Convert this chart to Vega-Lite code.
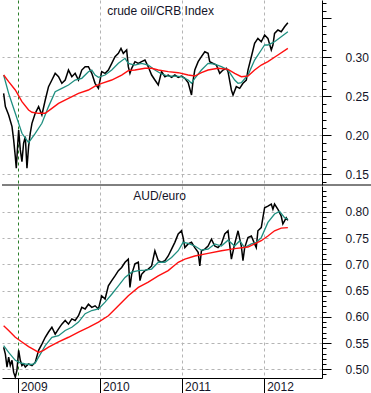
{
"$schema": "https://vega.github.io/schema/vega-lite/v6.json",
"padding": 0,
"spacing": 0,
"background": "white",
"config": {"view": {"stroke": null}, "font": "Liberation Sans", "axis": {"labelFont": "Liberation Sans", "labelFontSize": 12, "labelColor": "#141428"}},
"datasets": {
"oil": [
{"t":2008.826,"v":0.2538,"s":"p"},{"t":2008.847,"v":0.2368,"s":"p"},{"t":2008.887,"v":0.2261,"s":"p"},{"t":2008.928,"v":0.2111,"s":"p"},{"t":2008.948,"v":0.1941,"s":"p"},{"t":2008.968,"v":0.1727,"s":"p"},{"t":2008.980,"v":0.1578,"s":"p"},{"t":2008.996,"v":0.1855,"s":"p"},{"t":2009.009,"v":0.2069,"s":"p"},{"t":2009.029,"v":0.1813,"s":"p"},{"t":2009.049,"v":0.1663,"s":"p"},{"t":2009.069,"v":0.1898,"s":"p"},{"t":2009.090,"v":0.1983,"s":"p"},{"t":2009.110,"v":0.1578,"s":"p"},{"t":2009.130,"v":0.1855,"s":"p"},{"t":2009.150,"v":0.2026,"s":"p"},{"t":2009.171,"v":0.2154,"s":"p"},{"t":2009.211,"v":0.2282,"s":"p"},{"t":2009.252,"v":0.2368,"s":"p"},{"t":2009.292,"v":0.2261,"s":"p"},{"t":2009.333,"v":0.2453,"s":"p"},{"t":2009.373,"v":0.2624,"s":"p"},{"t":2009.414,"v":0.2709,"s":"p"},{"t":2009.454,"v":0.2795,"s":"p"},{"t":2009.495,"v":0.2752,"s":"p"},{"t":2009.535,"v":0.2667,"s":"p"},{"t":2009.576,"v":0.2709,"s":"p"},{"t":2009.616,"v":0.2837,"s":"p"},{"t":2009.657,"v":0.2752,"s":"p"},{"t":2009.697,"v":0.2795,"s":"p"},{"t":2009.738,"v":0.2709,"s":"p"},{"t":2009.778,"v":0.2837,"s":"p"},{"t":2009.819,"v":0.2880,"s":"p"},{"t":2009.859,"v":0.2880,"s":"p"},{"t":2009.900,"v":0.2795,"s":"p"},{"t":2009.940,"v":0.2667,"s":"p"},{"t":2009.981,"v":0.2602,"s":"p"},{"t":2010.021,"v":0.2816,"s":"p"},{"t":2010.062,"v":0.2795,"s":"p"},{"t":2010.102,"v":0.2837,"s":"p"},{"t":2010.143,"v":0.2923,"s":"p"},{"t":2010.183,"v":0.3008,"s":"p"},{"t":2010.224,"v":0.3051,"s":"p"},{"t":2010.256,"v":0.3115,"s":"p"},{"t":2010.284,"v":0.3051,"s":"p"},{"t":2010.325,"v":0.3094,"s":"p"},{"t":2010.345,"v":0.2880,"s":"p"},{"t":2010.365,"v":0.2795,"s":"p"},{"t":2010.386,"v":0.2859,"s":"p"},{"t":2010.426,"v":0.2944,"s":"p"},{"t":2010.467,"v":0.2923,"s":"p"},{"t":2010.507,"v":0.2944,"s":"p"},{"t":2010.548,"v":0.2965,"s":"p"},{"t":2010.588,"v":0.2880,"s":"p"},{"t":2010.629,"v":0.2773,"s":"p"},{"t":2010.669,"v":0.2709,"s":"p"},{"t":2010.710,"v":0.2645,"s":"p"},{"t":2010.750,"v":0.2816,"s":"p"},{"t":2010.791,"v":0.2752,"s":"p"},{"t":2010.831,"v":0.2773,"s":"p"},{"t":2010.872,"v":0.2743,"s":"p"},{"t":2010.912,"v":0.2773,"s":"p"},{"t":2010.953,"v":0.2743,"s":"p"},{"t":2010.993,"v":0.2760,"s":"p"},{"t":2011.034,"v":0.2731,"s":"p"},{"t":2011.074,"v":0.2675,"s":"p"},{"t":2011.115,"v":0.2517,"s":"p"},{"t":2011.135,"v":0.2709,"s":"p"},{"t":2011.155,"v":0.2837,"s":"p"},{"t":2011.196,"v":0.2944,"s":"p"},{"t":2011.236,"v":0.3008,"s":"p"},{"t":2011.277,"v":0.3072,"s":"p"},{"t":2011.317,"v":0.3051,"s":"p"},{"t":2011.337,"v":0.2944,"s":"p"},{"t":2011.378,"v":0.2923,"s":"p"},{"t":2011.418,"v":0.2901,"s":"p"},{"t":2011.459,"v":0.2795,"s":"p"},{"t":2011.499,"v":0.2837,"s":"p"},{"t":2011.540,"v":0.2859,"s":"p"},{"t":2011.560,"v":0.2816,"s":"p"},{"t":2011.601,"v":0.2581,"s":"p"},{"t":2011.621,"v":0.2517,"s":"p"},{"t":2011.661,"v":0.2624,"s":"p"},{"t":2011.702,"v":0.2602,"s":"p"},{"t":2011.742,"v":0.2667,"s":"p"},{"t":2011.783,"v":0.2709,"s":"p"},{"t":2011.803,"v":0.2837,"s":"p"},{"t":2011.844,"v":0.3008,"s":"p"},{"t":2011.884,"v":0.3179,"s":"p"},{"t":2011.924,"v":0.3243,"s":"p"},{"t":2011.965,"v":0.3200,"s":"p"},{"t":2012.006,"v":0.3286,"s":"p"},{"t":2012.046,"v":0.3243,"s":"p"},{"t":2012.087,"v":0.3094,"s":"p"},{"t":2012.107,"v":0.3158,"s":"p"},{"t":2012.127,"v":0.3307,"s":"p"},{"t":2012.168,"v":0.3350,"s":"p"},{"t":2012.208,"v":0.3328,"s":"p"},{"t":2012.249,"v":0.3392,"s":"p"},{"t":2012.289,"v":0.3444,"s":"p"},
{"t":2008.826,"v":0.2773,"s":"m"},{"t":2008.887,"v":0.2538,"s":"m"},{"t":2008.968,"v":0.2282,"s":"m"},{"t":2009.049,"v":0.2026,"s":"m"},{"t":2009.130,"v":0.1906,"s":"m"},{"t":2009.211,"v":0.2026,"s":"m"},{"t":2009.292,"v":0.2154,"s":"m"},{"t":2009.373,"v":0.2368,"s":"m"},{"t":2009.454,"v":0.2560,"s":"m"},{"t":2009.535,"v":0.2602,"s":"m"},{"t":2009.616,"v":0.2645,"s":"m"},{"t":2009.697,"v":0.2709,"s":"m"},{"t":2009.778,"v":0.2731,"s":"m"},{"t":2009.859,"v":0.2816,"s":"m"},{"t":2009.900,"v":0.2837,"s":"m"},{"t":2009.940,"v":0.2773,"s":"m"},{"t":2009.981,"v":0.2743,"s":"m"},{"t":2010.062,"v":0.2773,"s":"m"},{"t":2010.143,"v":0.2837,"s":"m"},{"t":2010.224,"v":0.2923,"s":"m"},{"t":2010.305,"v":0.2987,"s":"m"},{"t":2010.345,"v":0.2923,"s":"m"},{"t":2010.426,"v":0.2901,"s":"m"},{"t":2010.507,"v":0.2923,"s":"m"},{"t":2010.588,"v":0.2901,"s":"m"},{"t":2010.669,"v":0.2837,"s":"m"},{"t":2010.750,"v":0.2786,"s":"m"},{"t":2010.831,"v":0.2760,"s":"m"},{"t":2010.912,"v":0.2760,"s":"m"},{"t":2010.993,"v":0.2752,"s":"m"},{"t":2011.074,"v":0.2709,"s":"m"},{"t":2011.115,"v":0.2667,"s":"m"},{"t":2011.155,"v":0.2731,"s":"m"},{"t":2011.236,"v":0.2837,"s":"m"},{"t":2011.317,"v":0.2923,"s":"m"},{"t":2011.398,"v":0.2914,"s":"m"},{"t":2011.479,"v":0.2880,"s":"m"},{"t":2011.560,"v":0.2837,"s":"m"},{"t":2011.641,"v":0.2709,"s":"m"},{"t":2011.682,"v":0.2667,"s":"m"},{"t":2011.722,"v":0.2675,"s":"m"},{"t":2011.803,"v":0.2773,"s":"m"},{"t":2011.884,"v":0.2965,"s":"m"},{"t":2011.965,"v":0.3094,"s":"m"},{"t":2012.006,"v":0.3158,"s":"m"},{"t":2012.046,"v":0.3158,"s":"m"},{"t":2012.087,"v":0.3179,"s":"m"},{"t":2012.127,"v":0.3200,"s":"m"},{"t":2012.208,"v":0.3264,"s":"m"},{"t":2012.289,"v":0.3328,"s":"m"},
{"t":2008.826,"v":0.2773,"s":"l"},{"t":2008.887,"v":0.2688,"s":"l"},{"t":2008.968,"v":0.2581,"s":"l"},{"t":2009.049,"v":0.2432,"s":"l"},{"t":2009.130,"v":0.2325,"s":"l"},{"t":2009.171,"v":0.2295,"s":"l"},{"t":2009.252,"v":0.2282,"s":"l"},{"t":2009.333,"v":0.2282,"s":"l"},{"t":2009.414,"v":0.2346,"s":"l"},{"t":2009.495,"v":0.2410,"s":"l"},{"t":2009.616,"v":0.2474,"s":"l"},{"t":2009.738,"v":0.2538,"s":"l"},{"t":2009.859,"v":0.2581,"s":"l"},{"t":2009.940,"v":0.2632,"s":"l"},{"t":2010.021,"v":0.2667,"s":"l"},{"t":2010.143,"v":0.2709,"s":"l"},{"t":2010.264,"v":0.2773,"s":"l"},{"t":2010.345,"v":0.2829,"s":"l"},{"t":2010.426,"v":0.2837,"s":"l"},{"t":2010.548,"v":0.2859,"s":"l"},{"t":2010.629,"v":0.2859,"s":"l"},{"t":2010.710,"v":0.2837,"s":"l"},{"t":2010.831,"v":0.2816,"s":"l"},{"t":2010.953,"v":0.2803,"s":"l"},{"t":2011.074,"v":0.2773,"s":"l"},{"t":2011.155,"v":0.2760,"s":"l"},{"t":2011.236,"v":0.2803,"s":"l"},{"t":2011.317,"v":0.2837,"s":"l"},{"t":2011.438,"v":0.2859,"s":"l"},{"t":2011.560,"v":0.2846,"s":"l"},{"t":2011.641,"v":0.2795,"s":"l"},{"t":2011.722,"v":0.2752,"s":"l"},{"t":2011.803,"v":0.2760,"s":"l"},{"t":2011.884,"v":0.2837,"s":"l"},{"t":2011.965,"v":0.2901,"s":"l"},{"t":2012.046,"v":0.2944,"s":"l"},{"t":2012.168,"v":0.3030,"s":"l"},{"t":2012.289,"v":0.3115,"s":"l"}
],
"aud": [
{"t":2008.826,"v":0.542,"s":"p"},{"t":2008.847,"v":0.529,"s":"p"},{"t":2008.867,"v":0.504,"s":"p"},{"t":2008.887,"v":0.523,"s":"p"},{"t":2008.907,"v":0.507,"s":"p"},{"t":2008.928,"v":0.517,"s":"p"},{"t":2008.948,"v":0.494,"s":"p"},{"t":2008.968,"v":0.485,"s":"p"},{"t":2008.988,"v":0.498,"s":"p"},{"t":2009.009,"v":0.536,"s":"p"},{"t":2009.029,"v":0.517,"s":"p"},{"t":2009.049,"v":0.507,"s":"p"},{"t":2009.069,"v":0.510,"s":"p"},{"t":2009.090,"v":0.504,"s":"p"},{"t":2009.130,"v":0.510,"s":"p"},{"t":2009.171,"v":0.507,"s":"p"},{"t":2009.211,"v":0.513,"s":"p"},{"t":2009.252,"v":0.536,"s":"p"},{"t":2009.292,"v":0.548,"s":"p"},{"t":2009.333,"v":0.561,"s":"p"},{"t":2009.373,"v":0.571,"s":"p"},{"t":2009.414,"v":0.580,"s":"p"},{"t":2009.454,"v":0.567,"s":"p"},{"t":2009.495,"v":0.577,"s":"p"},{"t":2009.535,"v":0.586,"s":"p"},{"t":2009.576,"v":0.593,"s":"p"},{"t":2009.616,"v":0.586,"s":"p"},{"t":2009.657,"v":0.596,"s":"p"},{"t":2009.697,"v":0.593,"s":"p"},{"t":2009.738,"v":0.602,"s":"p"},{"t":2009.778,"v":0.618,"s":"p"},{"t":2009.819,"v":0.615,"s":"p"},{"t":2009.859,"v":0.624,"s":"p"},{"t":2009.900,"v":0.618,"s":"p"},{"t":2009.940,"v":0.621,"s":"p"},{"t":2009.981,"v":0.615,"s":"p"},{"t":2010.021,"v":0.640,"s":"p"},{"t":2010.062,"v":0.634,"s":"p"},{"t":2010.102,"v":0.659,"s":"p"},{"t":2010.143,"v":0.669,"s":"p"},{"t":2010.183,"v":0.678,"s":"p"},{"t":2010.224,"v":0.688,"s":"p"},{"t":2010.264,"v":0.694,"s":"p"},{"t":2010.305,"v":0.704,"s":"p"},{"t":2010.345,"v":0.710,"s":"p"},{"t":2010.365,"v":0.656,"s":"p"},{"t":2010.386,"v":0.681,"s":"p"},{"t":2010.426,"v":0.701,"s":"p"},{"t":2010.467,"v":0.704,"s":"p"},{"t":2010.487,"v":0.669,"s":"p"},{"t":2010.507,"v":0.681,"s":"p"},{"t":2010.548,"v":0.688,"s":"p"},{"t":2010.588,"v":0.691,"s":"p"},{"t":2010.629,"v":0.697,"s":"p"},{"t":2010.669,"v":0.726,"s":"p"},{"t":2010.710,"v":0.707,"s":"p"},{"t":2010.750,"v":0.704,"s":"p"},{"t":2010.791,"v":0.707,"s":"p"},{"t":2010.831,"v":0.716,"s":"p"},{"t":2010.872,"v":0.729,"s":"p"},{"t":2010.912,"v":0.742,"s":"p"},{"t":2010.953,"v":0.758,"s":"p"},{"t":2010.993,"v":0.764,"s":"p"},{"t":2011.013,"v":0.751,"s":"p"},{"t":2011.034,"v":0.732,"s":"p"},{"t":2011.074,"v":0.739,"s":"p"},{"t":2011.115,"v":0.742,"s":"p"},{"t":2011.155,"v":0.732,"s":"p"},{"t":2011.196,"v":0.723,"s":"p"},{"t":2011.216,"v":0.697,"s":"p"},{"t":2011.236,"v":0.726,"s":"p"},{"t":2011.277,"v":0.729,"s":"p"},{"t":2011.317,"v":0.735,"s":"p"},{"t":2011.358,"v":0.748,"s":"p"},{"t":2011.398,"v":0.735,"s":"p"},{"t":2011.438,"v":0.732,"s":"p"},{"t":2011.479,"v":0.739,"s":"p"},{"t":2011.520,"v":0.758,"s":"p"},{"t":2011.560,"v":0.764,"s":"p"},{"t":2011.601,"v":0.710,"s":"p"},{"t":2011.641,"v":0.739,"s":"p"},{"t":2011.682,"v":0.764,"s":"p"},{"t":2011.722,"v":0.735,"s":"p"},{"t":2011.742,"v":0.707,"s":"p"},{"t":2011.763,"v":0.732,"s":"p"},{"t":2011.803,"v":0.751,"s":"p"},{"t":2011.844,"v":0.754,"s":"p"},{"t":2011.884,"v":0.739,"s":"p"},{"t":2011.904,"v":0.732,"s":"p"},{"t":2011.924,"v":0.764,"s":"p"},{"t":2011.965,"v":0.770,"s":"p"},{"t":2011.985,"v":0.789,"s":"p"},{"t":2012.006,"v":0.808,"s":"p"},{"t":2012.046,"v":0.811,"s":"p"},{"t":2012.087,"v":0.815,"s":"p"},{"t":2012.107,"v":0.805,"s":"p"},{"t":2012.127,"v":0.815,"s":"p"},{"t":2012.168,"v":0.805,"s":"p"},{"t":2012.208,"v":0.792,"s":"p"},{"t":2012.228,"v":0.777,"s":"p"},{"t":2012.249,"v":0.783,"s":"p"},{"t":2012.269,"v":0.789,"s":"p"},{"t":2012.289,"v":0.784,"s":"p"},
{"t":2008.826,"v":0.545,"s":"m"},{"t":2008.887,"v":0.532,"s":"m"},{"t":2008.968,"v":0.517,"s":"m"},{"t":2009.029,"v":0.512,"s":"m"},{"t":2009.090,"v":0.510,"s":"m"},{"t":2009.171,"v":0.509,"s":"m"},{"t":2009.211,"v":0.512,"s":"m"},{"t":2009.252,"v":0.523,"s":"m"},{"t":2009.333,"v":0.545,"s":"m"},{"t":2009.414,"v":0.561,"s":"m"},{"t":2009.495,"v":0.564,"s":"m"},{"t":2009.576,"v":0.574,"s":"m"},{"t":2009.657,"v":0.580,"s":"m"},{"t":2009.738,"v":0.590,"s":"m"},{"t":2009.819,"v":0.606,"s":"m"},{"t":2009.900,"v":0.612,"s":"m"},{"t":2009.981,"v":0.615,"s":"m"},{"t":2010.062,"v":0.628,"s":"m"},{"t":2010.143,"v":0.643,"s":"m"},{"t":2010.224,"v":0.659,"s":"m"},{"t":2010.305,"v":0.675,"s":"m"},{"t":2010.386,"v":0.685,"s":"m"},{"t":2010.467,"v":0.688,"s":"m"},{"t":2010.548,"v":0.689,"s":"m"},{"t":2010.629,"v":0.691,"s":"m"},{"t":2010.710,"v":0.704,"s":"m"},{"t":2010.791,"v":0.704,"s":"m"},{"t":2010.872,"v":0.713,"s":"m"},{"t":2010.953,"v":0.726,"s":"m"},{"t":2011.013,"v":0.742,"s":"m"},{"t":2011.074,"v":0.740,"s":"m"},{"t":2011.155,"v":0.735,"s":"m"},{"t":2011.236,"v":0.727,"s":"m"},{"t":2011.317,"v":0.729,"s":"m"},{"t":2011.398,"v":0.739,"s":"m"},{"t":2011.479,"v":0.735,"s":"m"},{"t":2011.560,"v":0.746,"s":"m"},{"t":2011.641,"v":0.735,"s":"m"},{"t":2011.702,"v":0.745,"s":"m"},{"t":2011.763,"v":0.732,"s":"m"},{"t":2011.844,"v":0.739,"s":"m"},{"t":2011.904,"v":0.742,"s":"m"},{"t":2011.965,"v":0.751,"s":"m"},{"t":2012.046,"v":0.780,"s":"m"},{"t":2012.127,"v":0.796,"s":"m"},{"t":2012.188,"v":0.801,"s":"m"},{"t":2012.249,"v":0.789,"s":"m"},{"t":2012.289,"v":0.786,"s":"m"},
{"t":2008.826,"v":0.583,"s":"l"},{"t":2008.887,"v":0.574,"s":"l"},{"t":2008.968,"v":0.561,"s":"l"},{"t":2009.049,"v":0.552,"s":"l"},{"t":2009.130,"v":0.543,"s":"l"},{"t":2009.211,"v":0.536,"s":"l"},{"t":2009.252,"v":0.532,"s":"l"},{"t":2009.312,"v":0.536,"s":"l"},{"t":2009.373,"v":0.542,"s":"l"},{"t":2009.495,"v":0.552,"s":"l"},{"t":2009.616,"v":0.561,"s":"l"},{"t":2009.738,"v":0.571,"s":"l"},{"t":2009.859,"v":0.580,"s":"l"},{"t":2009.981,"v":0.590,"s":"l"},{"t":2010.102,"v":0.602,"s":"l"},{"t":2010.224,"v":0.621,"s":"l"},{"t":2010.345,"v":0.640,"s":"l"},{"t":2010.467,"v":0.656,"s":"l"},{"t":2010.588,"v":0.666,"s":"l"},{"t":2010.710,"v":0.678,"s":"l"},{"t":2010.831,"v":0.688,"s":"l"},{"t":2010.953,"v":0.704,"s":"l"},{"t":2011.034,"v":0.710,"s":"l"},{"t":2011.155,"v":0.716,"s":"l"},{"t":2011.317,"v":0.721,"s":"l"},{"t":2011.479,"v":0.726,"s":"l"},{"t":2011.641,"v":0.730,"s":"l"},{"t":2011.803,"v":0.733,"s":"l"},{"t":2011.884,"v":0.739,"s":"l"},{"t":2011.965,"v":0.745,"s":"l"},{"t":2012.046,"v":0.754,"s":"l"},{"t":2012.127,"v":0.764,"s":"l"},{"t":2012.208,"v":0.769,"s":"l"},{"t":2012.289,"v":0.770,"s":"l"}
]
},
"vconcat": [
{
"width": 320, "height": 185,
"layer": [
{"data": {"name": "oil"}, "mark": {"type": "line"},
 "encoding": {
  "x": {"field": "t", "type": "quantitative", "scale": {"domain": [2008.806, 2012.705], "nice": false, "zero": false},
        "axis": {"values": [2009, 2010, 2011, 2012], "tickCount": 100, "labels": false, "ticks": false, "domain": false, "grid": true, "gridDash": [3, 3], "gridColor": {"condition": {"test": "datum.value == 2009", "value": "#2a7d2a"}, "value": "#b4b4b4"}, "title": null}},
  "y": {"field": "v", "type": "quantitative", "scale": {"domain": [0.1363, 0.3735], "nice": false, "zero": false},
        "axis": {"orient": "right", "title": null, "tickCount": 100, "values": [0.14,0.15,0.16,0.17,0.18,0.19,0.2,0.21,0.22,0.23,0.24,0.25,0.26,0.27,0.28,0.29,0.3,0.31,0.32,0.33,0.34,0.35,0.36,0.37],
                 "labelExpr": "abs(datum.value*20-round(datum.value*20))<0.001 && datum.value < 0.34 ? format(datum.value,'.2f') : ''",
                 "labelFontSize": {"condition": {"test": "abs(datum.value*20-round(datum.value*20))<0.001 && datum.value < 0.34", "value": 12}, "value": 0},
                 "tickSize": {"condition": {"test": "abs(datum.value*20-round(datum.value*20))<0.001", "value": 9}, "value": 4},
                 "labelOverlap": false, "labelBound": false, "labelFlush": false, "labelPadding": 14, "domainColor": "black", "tickColor": "black",
                 "grid": true, "gridDash": [3, 3], "gridColor": "#b4b4b4", "gridOpacity": {"condition": {"test": "abs(datum.value*20-round(datum.value*20))<0.001 && datum.value < 0.34", "value": 1}, "value": 0}}},
  "color": {"field": "s", "type": "nominal", "scale": {"domain": ["p", "l", "m"], "range": ["#000000", "#ff1010", "#1f8f80"]}, "legend": null},
  "strokeWidth": {"field": "s", "type": "nominal", "scale": {"domain": ["p", "l", "m"], "range": [1.5, 1.3, 1.3]}, "legend": null}
 }},
{"data": {"values": [{"t": 2010.738, "v": 0.3543, "label": "crude oil/CRB Index"}]}, "mark": {"type": "text", "align": "center", "baseline": "alphabetic", "fontSize": 12, "font": "Liberation Sans", "color": "#141428"},
 "encoding": {"x": {"field": "t", "type": "quantitative"}, "y": {"field": "v", "type": "quantitative"}, "text": {"field": "label"}}},
{"data": {"values": [{"t0": 2008.806, "t1": 2013.33, "v": 0.1363}]}, "mark": {"type": "rule", "clip": false, "color": "black", "strokeWidth": 1},
 "encoding": {"x": {"field": "t0", "type": "quantitative"}, "x2": {"field": "t1"}, "y": {"field": "v", "type": "quantitative"}}}
]
},
{
"width": 320, "height": 192,
"layer": [
{"data": {"name": "aud"}, "mark": {"type": "line"},
 "encoding": {
  "x": {"field": "t", "type": "quantitative", "scale": {"domain": [2008.806, 2012.705], "nice": false, "zero": false},
        "axis": {"values": [2009, 2010, 2011, 2012], "tickCount": 100, "format": "d", "labelAlign": "left", "labelBaseline": "top", "labelOffset": 2.5, "tickSize": 16, "labelPadding": -13, "labelFlush": false, "labelBound": false, "labelOverlap": false, "domainColor": "black", "tickColor": "black", "grid": true, "gridDash": [3, 3], "gridColor": {"condition": {"test": "datum.value == 2009", "value": "#2a7d2a"}, "value": "#b4b4b4"}, "title": null}},
  "y": {"field": "v", "type": "quantitative", "scale": {"domain": [0.4833, 0.8494], "nice": false, "zero": false},
        "axis": {"orient": "right", "title": null, "tickCount": 100, "values": [0.49,0.5,0.51,0.52,0.53,0.54,0.55,0.56,0.57,0.58,0.59,0.6,0.61,0.62,0.63,0.64,0.65,0.66,0.67,0.68,0.69,0.7,0.71,0.72,0.73,0.74,0.75,0.76,0.77,0.78,0.79,0.8,0.81,0.82,0.83,0.84],
                 "labelExpr": "abs(datum.value*20-round(datum.value*20))<0.001 ? format(datum.value,'.2f') : ''",
                 "labelFontSize": {"condition": {"test": "abs(datum.value*20-round(datum.value*20))<0.001", "value": 12}, "value": 0},
                 "tickSize": {"condition": {"test": "abs(datum.value*20-round(datum.value*20))<0.001", "value": 9}, "value": 4},
                 "labelOverlap": false, "labelBound": false, "labelFlush": false, "labelPadding": 14, "domainColor": "black", "tickColor": "black",
                 "grid": true, "gridDash": [3, 3], "gridColor": "#b4b4b4", "gridOpacity": {"condition": {"test": "abs(datum.value*20-round(datum.value*20))<0.001", "value": 1}, "value": 0}}},
  "color": {"field": "s", "type": "nominal", "scale": {"domain": ["p", "l", "m"], "range": ["#000000", "#ff1010", "#1f8f80"]}, "legend": null},
  "strokeWidth": {"field": "s", "type": "nominal", "scale": {"domain": ["p", "l", "m"], "range": [1.5, 1.3, 1.3]}, "legend": null}
 }},
{"data": {"values": [{"t": 2010.726, "v": 0.8227, "label": "AUD/euro"}]}, "mark": {"type": "text", "align": "center", "baseline": "alphabetic", "fontSize": 12, "font": "Liberation Sans", "color": "#141428"},
 "encoding": {"x": {"field": "t", "type": "quantitative"}, "y": {"field": "v", "type": "quantitative"}, "text": {"field": "label"}}},
{"mark": {"type": "rule", "color": "#800000", "strokeWidth": 3}, "encoding": {"y": {"datum": 0.5}}}
]
}
]
}
